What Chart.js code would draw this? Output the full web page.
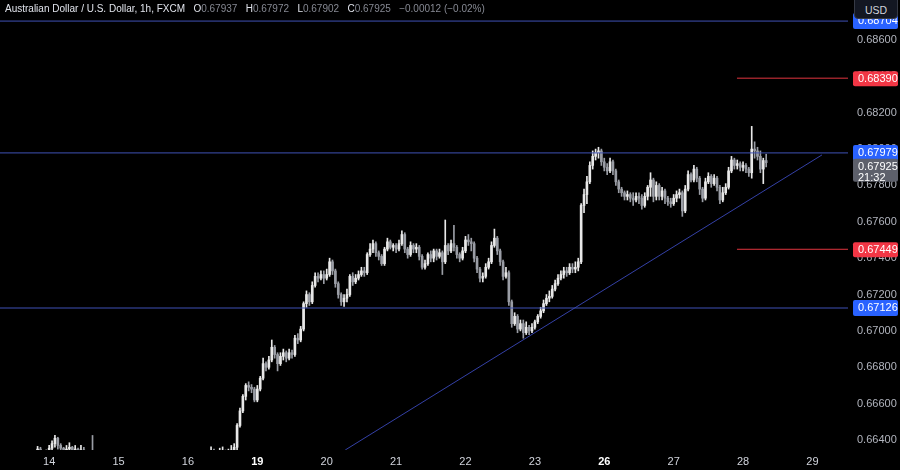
<!DOCTYPE html>
<html>
<head>
<meta charset="utf-8">
<script src="https://cdn.jsdelivr.net/npm/chart.js@4.4.1/dist/chart.umd.min.js"></script>
<style>
  html, body { margin: 0; background: #000; }
  #wrap { position: relative; width: 900px; height: 470px; overflow: hidden; background: #000; }
  canvas { display: block; }
  .hdr { position: absolute; left: 5px; top: 3px; font: 10px "Liberation Sans", Arial, sans-serif; color: #e0e3eb; white-space: pre; }
  .hdr .v { color: #868993; }
  .usd { position: absolute; left: 854px; top: -5px; width: 42px; height: 22px; border: 1px solid #363a45; border-radius: 4px;
         background: #131722; color: #d1d4dc; font: 10.5px "Liberation Sans", Arial, sans-serif; text-align: center; line-height: 28px; }
</style>
</head>
<body>
<div id="wrap">
  <canvas id="chart" width="900" height="470"></canvas>
  <div class="hdr">Australian Dollar / U.S. Dollar, 1h, FXCM   O<span class="v">0.67937</span>   H<span class="v">0.67972</span>   L<span class="v">0.67902</span>   C<span class="v">0.67925</span>   <span class="v">−0.00012 (−0.02%)</span></div>
  <div class="usd">USD</div>
</div>
<script>
// prices in 1e-5 units (0.67925 -> 67925), one candle per hour, index 0 = first hour of the 14th
const firstIndex = -4;
const firstOpen = 66340;

const closes = [
  66350,66340,66320,66330,66355,66380,66410,66370,66355,66320,
  66350,66360,66330,66350,66320,66345,66330,66300,66320,66290,
  66250,66220,66200,66180,66150,66120,66100,66080,66050,66020,
  66000,65980,65950,65970,66000,66020,66050,66040,66070,66100,
  66090,66120,66150,66140,66170,66190,66200,66180,66210,66230,
  66220,66240,66260,66250,66270,66280,66290,66300,66310,66320,
  66330,66320,66310,66330,66340,66320,66330,66345,66360,66480,
  66560,66640,66700,66690,66680,66620,66680,66740,66820,66800,
  66840,66910,66870,66820,66860,66880,66850,66880,66870,66960,
  66950,67010,67150,67200,67160,67250,67300,67290,67310,67290,
  67310,67380,67330,67260,67200,67160,67180,67200,67300,67270,
  67290,67310,67330,67320,67420,67450,67480,67430,67410,67370,
  67450,67490,67460,67470,67450,67480,67530,67450,67420,67470,
  67450,67460,67410,67350,67370,67420,67400,67440,67410,67430,
  67380,67470,67440,67480,67460,67420,67400,67440,67500,67490,
  67480,67400,67340,67290,67300,67350,67380,67470,67510,67440,
  67380,67300,67320,67160,67040,67080,67010,67040,66990,67020,
  67000,67020,67050,67080,67110,67150,67180,67190,67230,67260,
  67290,67310,67330,67320,67350,67340,67350,67380,67690,67750,
  67820,67910,67960,67980,67990,67930,67900,67880,67930,67880,
  67820,67780,67760,67740,67750,67730,67720,67740,67730,67690,
  67740,67790,67830,67740,67800,67740,67770,67730,67710,67700,
  67730,67750,67760,67660,67780,67860,67830,67890,67840,67780,
  67730,67820,67850,67810,67840,67790,67720,67760,67790,67880,
  67940,67910,67920,67900,67910,67890,67870,68000,67990,67960,
  67890,67937,67925
];

const highs = [
  66365,66360,66340,66345,66370,66395,66425,66415,66380,66360,
  66370,66385,66365,66370,66355,66370,66360,66335,66340,66425,
  66300,66265,66235,66215,66195,66165,66135,66115,66095,66065,
  66035,66015,65995,65985,66015,66035,66065,66065,66085,66115,
  66115,66135,66165,66165,66185,66205,66215,66215,66225,66245,
  66245,66255,66275,66275,66285,66295,66305,66315,66325,66335,
  66362,66350,66340,66355,66362,66345,66350,66370,66380,66490,
  66575,66650,66710,66720,66705,66690,66700,66750,66850,66830,
  66860,66950,66920,66880,66880,66900,66890,66900,66895,66975,
  66985,67025,67160,67220,67210,67270,67320,67320,67330,67330,
  67340,67400,67390,67340,67270,67210,67200,67230,67310,67320,
  67310,67330,67350,67350,67430,67480,67500,67490,67440,67420,
  67460,67510,67500,67480,67480,67500,67550,67540,67460,67490,
  67480,67480,67470,67420,67390,67430,67440,67450,67450,67450,
  67440,67610,67480,67500,67580,67470,67430,67460,67520,67530,
  67510,67490,67410,67350,67320,67370,67400,67490,67560,67520,
  67450,67390,67350,67330,67170,67100,67090,67060,67060,67050,
  67030,67040,67060,67090,67130,67170,67200,67220,67250,67280,
  67310,67330,67350,67350,67370,67370,67380,67400,67700,67780,
  67850,67930,67990,68000,68010,68000,67950,67920,67950,67940,
  67890,67830,67790,67770,67770,67760,67760,67760,67760,67750,
  67760,67800,67870,67840,67820,67810,67790,67780,67740,67730,
  67750,67770,67780,67770,67800,67880,67870,67910,67900,67850,
  67790,67840,67870,67860,67860,67850,67800,67790,67810,67900,
  67960,67950,67940,67930,67930,67920,67900,68125,68040,68010,
  67990,67950,67972
];

const lows = [
  66320,66310,66300,66300,66320,66340,66360,66350,66330,66300,
  66310,66330,66300,66320,66290,66300,66300,66270,66280,66260,
  66235,66205,66185,66165,66135,66105,66085,66065,66035,66005,
  65985,65965,65935,65935,65955,65985,66005,66025,66025,66055,
  66075,66075,66105,66125,66125,66155,66175,66165,66165,66195,
  66205,66205,66225,66235,66235,66255,66265,66275,66285,66295,
  66300,66290,66280,66300,66310,66300,66300,66320,66330,66340,
  66470,66550,66620,66670,66660,66610,66610,66670,66730,66780,
  66790,66830,66850,66780,66810,66840,66830,66840,66850,66860,
  66930,66940,67000,67130,67140,67150,67240,67270,67280,67260,
  67280,67300,67310,67240,67180,67140,67135,67160,67190,67250,
  67260,67280,67300,67300,67310,67410,67430,67410,67390,67360,
  67360,67440,67450,67440,67430,67440,67470,67430,67400,67410,
  67430,67430,67390,67340,67340,67360,67380,67380,67390,67400,
  67310,67370,67420,67430,67440,67400,67380,67390,67430,67470,
  67440,67380,67320,67270,67270,67290,67340,67370,67460,67420,
  67360,67280,67290,67140,67020,67030,66990,67000,66960,66980,
  66980,66990,67010,67040,67070,67100,67140,67160,67180,67220,
  67250,67280,67290,67300,67310,67320,67320,67330,67370,67650,
  67700,67810,67890,67940,67950,67910,67880,67860,67870,67860,
  67800,67760,67740,67720,67720,67710,67690,67710,67700,67670,
  67680,67720,67740,67710,67720,67720,67720,67700,67690,67680,
  67690,67710,67730,67630,67650,67770,67820,67820,67820,67750,
  67710,67720,67810,67790,67800,67770,67700,67710,67750,67780,
  67870,67890,67890,67880,67880,67870,67850,67840,67950,67940,
  67870,67810,67902
];

const dayLabels = ['14', '15', '16', '19', '20', '21', '22', '23', '26', '27', '28', '29'];
const dayIndex = [0, 24, 48, 72, 96, 120, 144, 168, 192, 216, 240, 264];
const weekStarts = ['19', '26'];
const yTicks = [66400, 66600, 66800, 67000, 67200, 67400, 67600, 67800, 68000, 68200, 68400, 68600];

const blueLevels = [68704, 67979, 67126];
const redLevels = [68390, 67449];
const redStart = 237.9;
const trendX = [102.4, 267.3];
const trendY = [66345, 67968];
const countdown = '21:32';

const X_MIN = -17, X_MAX = 276.3;
const BLUE = '#2962ff', RED = '#f23645';
const FONT = '"Liberation Sans", Arial, sans-serif';

const opens = [firstOpen, ...closes.slice(0, -1)];
const isUp = closes.map((c, i) => c >= opens[i]);
const UP = '#e8e8e8', DOWN = '#9a9da5';
const candleColor = ctx => (isUp[ctx.dataIndex] ? UP : DOWN);

const wicks = closes.map((c, i) => ({ x: firstIndex + i, y: [lows[i], highs[i]] }));
const bodies = closes.map((c, i) => ({ x: firstIndex + i, y: [Math.min(opens[i], c), Math.max(opens[i], c)] }));

function hline(value, from, color) {
  return {
    type: 'line', data: [{ x: from, y: value }, { x: X_MAX, y: value }],
    borderColor: color, borderWidth: 1, pointRadius: 0, order: 0,
  };
}

const lineSets = [
  ...blueLevels.map(v => hline(v, X_MIN, '#3f51b5')),
  ...redLevels.map(v => hline(v, redStart, '#e0343f')),
  {
    type: 'line', data: trendX.map((x, i) => ({ x, y: trendY[i] })),
    borderColor: '#3440a6', borderWidth: 1, pointRadius: 0, order: 0,
  },
];

function fmt(v) { return (v / 1e5).toFixed(5); }

function badge(ctx, x, top, h, color, lines) {
  ctx.fillStyle = color;
  ctx.beginPath();
  ctx.roundRect(x, top, 45, h, 2);
  ctx.fill();
  ctx.fillStyle = '#ffffff';
  lines.forEach((t, i) => ctx.fillText(t, x + 5, top + 8 + i * 11));
}

const badgePlugin = {
  id: 'badges',
  afterDatasetsDraw(chart) {
    const { ctx, scales: { y }, chartArea } = chart;
    const x = chartArea.right + 5;
    ctx.save();
    ctx.font = '11px ' + FONT;
    ctx.textBaseline = 'middle';
    blueLevels.forEach(v => badge(ctx, x, y.getPixelForValue(v) - 8, 16, BLUE, [fmt(v)]));
    redLevels.forEach(v => badge(ctx, x, y.getPixelForValue(v) - 7, 15, RED, [fmt(v)]));
    const last = closes[closes.length - 1];
    badge(ctx, x, y.getPixelForValue(last) - 4, 23, '#5d606b', [fmt(last), countdown]);
    ctx.restore();
  }
};

new Chart(document.getElementById('chart'), {
  type: 'bar',
  data: {
    datasets: [
      ...lineSets,
      { data: wicks, backgroundColor: candleColor, barThickness: 1, grouped: false, order: 2 },
      { data: bodies, backgroundColor: candleColor, barThickness: 2, minBarLength: 1, grouped: false, order: 1 },
    ]
  },
  options: {
    responsive: false,
    animation: false,
    layout: { padding: 0 },
    plugins: { legend: { display: false }, tooltip: { enabled: false } },
    scales: {
      x: {
        type: 'linear', min: X_MIN, max: X_MAX, offset: false,
        grid: { display: false, drawTicks: false }, border: { display: false },
        afterBuildTicks: s => { s.ticks = dayIndex.map(v => ({ value: v })); },
        afterFit: s => { s.height = 20; s.paddingLeft = 0; s.paddingRight = 0; },
        ticks: {
          padding: 5, maxRotation: 0, autoSkip: false,
          color: ctx => (weekStarts.includes(dayLabels[ctx.index]) ? '#ffffff' : '#d1d4dc'),
          font: ctx => ({ family: FONT, size: 11, weight: weekStarts.includes(dayLabels[ctx.index]) ? 'bold' : 'normal' }),
          callback: (v, i) => dayLabels[i],
        },
      },
      y: {
        type: 'linear', position: 'right', min: 66345, max: 68820,
        grid: { display: false, drawTicks: false }, border: { display: false },
        afterBuildTicks: s => { s.ticks = yTicks.map(v => ({ value: v })); },
        afterFit: s => { s.width = 52; s.paddingTop = 0; s.paddingBottom = 0; },
        ticks: { padding: 9, color: '#b2b5be', font: { family: FONT, size: 11 }, callback: v => fmt(v) },
      },
    },
  },
  plugins: [badgePlugin],
});
</script>
</body>
</html>
